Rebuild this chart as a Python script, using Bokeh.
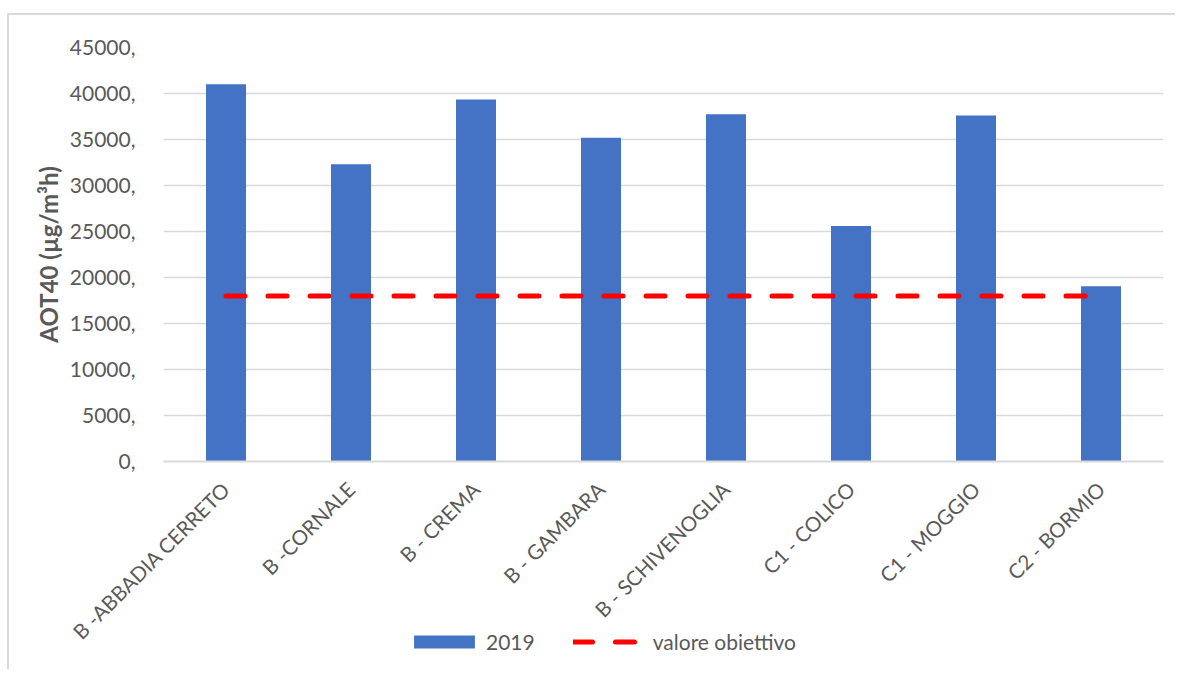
from bokeh.plotting import figure
from bokeh.layouts import column
from bokeh.models import FactorRange, Range1d, FixedTicker, Legend, LegendItem
from bokeh.embed import file_html
from bokeh.resources import INLINE

categories = ["B -ABBADIA CERRETO", "B -CORNALE", "B - CREMA", "B - GAMBARA",
              "B - SCHIVENOGLIA", "C1 - COLICO", "C1 - MOGGIO", "C2 - BORMIO"]
values_2019 = [41000, 32300, 39350, 35200, 37750, 25600, 37600, 19050]
target_values = [18000] * len(categories)
y_ticks = [0, 5000, 10000, 15000, 20000, 25000, 30000, 35000, 40000, 45000]
y_tick_labels = ["0,", "5000,", "10000,", "15000,", "20000,", "25000,",
                 "30000,", "35000,", "40000,", "45000,"]
series_names = ["2019", "valore obiettivo"]

FONT = "Lato"
TXT = "#595959"
GRID = "#D9D9D9"
BAR_COLOR = "#4472C4"
LINE_COLOR = "#FF0000"

p = figure(width=1168, height=656, x_range=FactorRange(factors=categories),
           y_range=Range1d(0, 45000), output_backend="svg", toolbar_location=None,
           min_border_left=154, min_border_right=14, min_border_top=32,
           min_border_bottom=210)
p.outline_line_color = None
p.background_fill_color = "white"
p.border_fill_color = "white"

p.vbar(x=categories, top=values_2019, width=0.32, color=BAR_COLOR, line_color=None)
p.line(x=categories, y=target_values, line_color=LINE_COLOR, line_width=5,
       line_dash="19 23", line_cap="round")

# y axis
p.yaxis.ticker = FixedTicker(ticks=y_ticks)
p.yaxis.major_label_overrides = {t: l for t, l in zip(y_ticks, y_tick_labels)}
p.yaxis.axis_line_color = None
p.yaxis.major_tick_line_color = None
p.yaxis.minor_tick_line_color = None
p.yaxis.major_label_text_font = FONT
p.yaxis.major_label_text_font_size = "21px"
p.yaxis.major_label_text_color = TXT
p.yaxis.major_label_standoff = 22
p.yaxis.axis_label = "AOT40 (µg/m³h)"
p.yaxis.axis_label_text_font = FONT
p.yaxis.axis_label_text_font_size = "24px"
p.yaxis.axis_label_text_font_style = "bold"
p.yaxis.axis_label_text_color = TXT
p.yaxis.axis_label_standoff = 4

# x axis
p.xaxis.axis_line_color = GRID
p.xaxis.axis_line_width = 2
p.xaxis.major_tick_line_color = None
p.xaxis.minor_tick_line_color = None
p.xaxis.major_label_orientation = 0.785398
p.xaxis.major_label_text_font = FONT
p.xaxis.major_label_text_font_size = "20.5px"
p.xaxis.major_label_text_color = TXT
p.xaxis.major_label_standoff = 18

p.xgrid.grid_line_color = None
p.ygrid.grid_line_color = GRID
p.ygrid.grid_line_width = 1.5

p.styles = {"border-top": "2px solid #D9D9D9", "border-left": "2px solid #D9D9D9",
            "position": "relative", "left": "7px", "top": "13px"}

# legend strip: a small transparent figure holding the legend (its frame is
# aligned with the main plot's frame by the column layout); its proxy
# renderers lie outside its y range so only the legend is visible
lf = figure(width=590, height=40, x_range=FactorRange(factors=categories),
            y_range=Range1d(50000, 60000), output_backend="svg", toolbar_location=None,
            x_axis_type=None, y_axis_type=None,
            min_border_left=0, min_border_right=0, min_border_top=0, min_border_bottom=0)
lf.outline_line_color = None
lf.background_fill_color = None
lf.border_fill_color = None
lf.grid.visible = False
leg_bar = lf.vbar(x=categories, top=values_2019, width=0.32, color=BAR_COLOR,
                  line_color=None)
leg_line = lf.line(x=categories, y=target_values, line_color=LINE_COLOR, line_width=5,
                   line_dash="19 23", line_cap="round")
legend = Legend(items=[LegendItem(label=series_names[0], renderers=[leg_bar]),
                       LegendItem(label=series_names[1], renderers=[leg_line])],
                orientation="horizontal", location="center_left",
                glyph_width=76, glyph_height=16, label_standoff=4, spacing=38,
                label_text_font=FONT, label_text_font_size="21px",
                label_text_color=TXT, border_line_color=None,
                background_fill_alpha=0, padding=0, margin=0)
lf.add_layout(legend, "center")
lf.styles = {"position": "absolute", "left": "252px", "top": "621px"}

layout = column(p, lf)

open("out.html", "w").write(file_html(layout, INLINE))
